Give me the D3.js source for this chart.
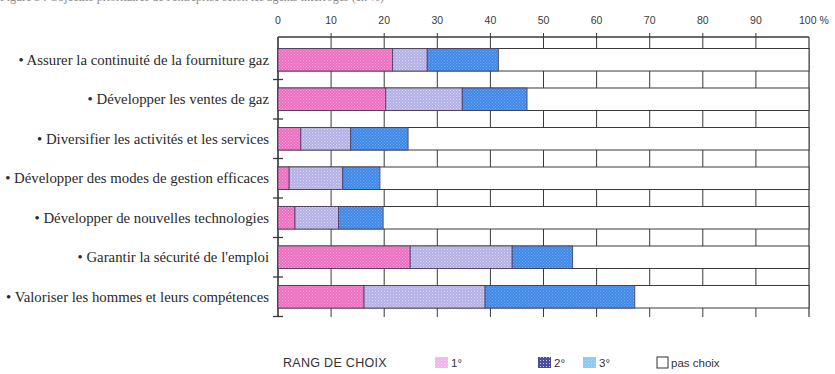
<!DOCTYPE html>
<meta charset="utf-8">
<head>
  <script src="https://d3js.org/d3.v7.min.js"></script>
  <style>
    body { margin: 0; background: #fff; }
    svg { display: block; }
    .lbl { font-family: "Liberation Serif", "DejaVu Serif", serif; font-size: 14.8px; fill: #2a2a2a; }
    .tick-lbl { font-family: "Liberation Sans", Arial, sans-serif; font-size: 10.5px; fill: #3a3a3a; }
    .leg { font-family: "Liberation Sans", Arial, sans-serif; font-size: 11.5px; fill: #333; }
  </style>
</head>
<body>
<svg width="835" height="374"></svg>
<script>
  // data (percent of answers)
  var categories = [
    "• Assurer la continuité de la fourniture gaz",
    "• Développer les ventes de gaz",
    "• Diversifier les activités et les services",
    "• Développer des modes de gestion efficaces",
    "• Développer de nouvelles technologies",
    "• Garantir la sécurité de l'emploi",
    "• Valoriser les hommes et leurs compétences"
  ];
  var rang1 = [21.6, 20.3, 4.3, 2.1, 3.2, 24.9, 16.2];
  var rang2 = [6.5, 14.4, 9.4, 10.1, 8.2, 19.2, 22.8];
  var rang3 = [13.4, 12.2, 10.8, 7.0, 8.4, 11.4, 28.2];
  var ticks = [0, 10, 20, 30, 40, 50, 60, 70, 80, 90, 100];
  var legendLabels = ["1°", "2°", "3°", "pas choix"];

  var svg = d3.select("svg");
  var defs = svg.append("defs");

  // little dotted textures to look like the printed screen
  function dots(id, base, dot) {
    var p = defs.append("pattern").attr("id", id)
      .attr("width", 3).attr("height", 3).attr("patternUnits", "userSpaceOnUse");
    p.append("rect").attr("width", 3).attr("height", 3).attr("fill", base);
    p.append("rect").attr("x", 0).attr("y", 0).attr("width", 1).attr("height", 1).attr("fill", dot);
    p.append("rect").attr("x", 1.5).attr("y", 1.5).attr("width", 1).attr("height", 1).attr("fill", dot);
  }
  dots("p1", "#ec6ebf", "#f6a6da");
  dots("p2", "#b2aee6", "#dcdaf5");
  dots("p3", "#3f87e6", "#74aef0");
  dots("l1", "#f0b2e8", "#fbd6f4");
  dots("l3", "#88c6f2", "#b8def8");
  var hatch = defs.append("pattern").attr("id", "l2")
    .attr("width", 3).attr("height", 3).attr("patternUnits", "userSpaceOnUse");
  hatch.append("rect").attr("width", 3).attr("height", 3).attr("fill", "#4a4c9c");
  hatch.append("rect").attr("width", 1).attr("height", 1).attr("fill", "#c8c8ee");

  var x = d3.scaleLinear().domain([0, 100]).range([278, 809]);
  var y = d3.scaleBand().domain(categories).range([48.5, 308]).paddingInner(0.43).paddingOuter(0);
  var axisY = 37, bottomY = 317;
  var stroke = "#3a3a3a";

  // cut-off caption line at the very top of the scan
  svg.append("text").attr("x", 0).attr("y", 1)
    .attr("class", "lbl").style("font-size", "12px").style("fill", "#888")
    .text("Figure 5 : Objectifs prioritaires de l'entreprise selon les agents interrogés (en %)");

  // vertical grid (hidden behind the bars)
  svg.append("g").selectAll("line").data(ticks).enter().append("line")
    .attr("x1", function (d) { return x(d); }).attr("x2", function (d) { return x(d); })
    .attr("y1", function (d) { return (d === 0 || d === 100) ? axisY : axisY - 4; })
    .attr("y2", bottomY)
    .attr("stroke", stroke).attr("stroke-width", function (d) { return d === 100 ? 1.2 : 1; });

  // top axis line
  svg.append("line").attr("x1", x(0)).attr("x2", x(100)).attr("y1", axisY).attr("y2", axisY)
    .attr("stroke", stroke).attr("stroke-width", 1.3);

  svg.append("g").selectAll("text").data(ticks).enter().append("text")
    .attr("class", "tick-lbl")
    .attr("x", function (d) { return x(d); })
    .attr("y", 24)
    .attr("text-anchor", function (d) { return d === 100 ? "start" : "middle"; })
    .attr("dx", function (d) { return d === 100 ? -10 : 0; })
    .text(function (d) { return d === 100 ? "100 %" : d; });

  // left axis with small marks between rows
  svg.append("line").attr("x1", x(0)).attr("x2", x(0)).attr("y1", axisY).attr("y2", bottomY)
    .attr("stroke", stroke).attr("stroke-width", 1.3);
  var gap = y.step() - y.bandwidth();
  svg.append("g").selectAll("line").data(categories).enter().append("line")
    .attr("x1", x(0) - 5).attr("x2", x(0) + 5)
    .attr("y1", function (d) { return y(d) + y.bandwidth() + gap / 2; })
    .attr("y2", function (d) { return y(d) + y.bandwidth() + gap / 2; })
    .attr("stroke", stroke).attr("stroke-width", 1.3);

  // bars: full white row then the stacked ranks
  var rows = svg.append("g").selectAll("g").data(categories).enter().append("g");
  rows.append("rect")
    .attr("x", x(0)).attr("width", x(100) - x(0))
    .attr("y", function (d) { return y(d); }).attr("height", y.bandwidth())
    .attr("fill", "#fff").attr("stroke", stroke).attr("stroke-width", 1);

  var series = [rang1, rang2, rang3];
  var fills = ["url(#p1)", "url(#p2)", "url(#p3)"];
  rows.each(function (cat, i) {
    var start = 0;
    var g = d3.select(this);
    series.forEach(function (s, k) {
      g.append("rect")
        .attr("x", x(start)).attr("width", x(start + s[i]) - x(start))
        .attr("y", y(cat)).attr("height", y.bandwidth())
        .attr("fill", fills[k]).attr("stroke", "#4a3a5a").attr("stroke-width", 0.8);
      start += s[i];
    });
  });

  svg.append("g").selectAll("text").data(categories).enter().append("text")
    .attr("class", "lbl")
    .attr("x", 269)
    .attr("y", function (d) { return y(d) + y.bandwidth() / 2; })
    .attr("dy", "0.35em")
    .attr("text-anchor", "end")
    .text(function (d) { return d; });

  // legend
  var leg = svg.append("g");
  leg.append("text").attr("class", "leg").attr("x", 283).attr("y", 367)
    .style("font-size", "12.5px").style("letter-spacing", "0.3px").text("RANG DE CHOIX");
  var legX = [435, 538, 583, 657];
  var legFill = ["url(#l1)", "url(#l2)", "url(#l3)", "#fff"];
  legendLabels.forEach(function (t, i) {
    leg.append("rect").attr("x", legX[i]).attr("y", 357)
      .attr("width", i === 3 ? 11 : 13).attr("height", 11)
      .attr("fill", legFill[i])
      .attr("stroke", i === 3 ? "#333" : "none").attr("stroke-width", 1);
    leg.append("text").attr("class", "leg")
      .attr("x", legX[i] + (i === 3 ? 14 : 16)).attr("y", 367).text(t);
  });
</script>
</body>
